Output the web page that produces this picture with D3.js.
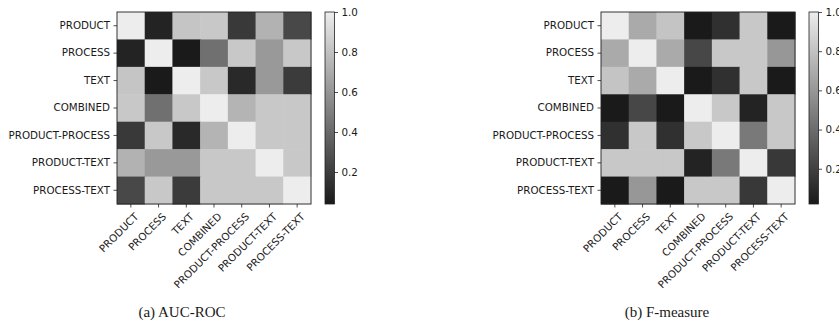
<!DOCTYPE html>
<html>
<head>
<meta charset="utf-8">
<script src="https://cdn.jsdelivr.net/npm/d3@7"></script>
<style>
  html, body { margin: 0; padding: 0; background: #fff; }
  svg { display: block; }
</style>
</head>
<body>
<svg id="chart" width="839" height="324"></svg>
<script>
// Feature groups compared in both matrices
const featureSets = ["PRODUCT", "PROCESS", "TEXT", "COMBINED", "PRODUCT-PROCESS", "PRODUCT-TEXT", "PROCESS-TEXT"];

// Pairwise similarity of AUC-ROC scores
const aucRocValues = [
  [1.00, 0.08, 0.82, 0.83, 0.18, 0.73, 0.25],
  [0.08, 1.00, 0.04, 0.43, 0.83, 0.62, 0.83],
  [0.82, 0.04, 1.00, 0.83, 0.11, 0.62, 0.19],
  [0.83, 0.43, 0.83, 1.00, 0.74, 0.83, 0.83],
  [0.18, 0.83, 0.11, 0.74, 1.00, 0.83, 0.83],
  [0.73, 0.62, 0.62, 0.83, 0.83, 1.00, 0.83],
  [0.25, 0.83, 0.19, 0.83, 0.83, 0.83, 1.00]
];

// Pairwise similarity of F-measure scores
const fMeasureValues = [
  [1.00, 0.69, 0.81, 0.02, 0.12, 0.83, 0.02],
  [0.69, 1.00, 0.69, 0.23, 0.83, 0.83, 0.60],
  [0.81, 0.69, 1.00, 0.02, 0.12, 0.83, 0.02],
  [0.02, 0.23, 0.02, 1.00, 0.83, 0.06, 0.83],
  [0.12, 0.83, 0.12, 0.83, 1.00, 0.46, 0.83],
  [0.83, 0.83, 0.83, 0.06, 0.46, 1.00, 0.16],
  [0.02, 0.60, 0.02, 0.83, 0.83, 0.16, 1.00]
];

const colorbarTicks = [0.2, 0.4, 0.6, 0.8, 1.0];
const captions = ["(a) AUC-ROC", "(b) F-measure"];

const svg = d3.select("#chart");
const labelFont = "'DejaVu Sans', sans-serif";
const labelSize = "10.3px";
const textColor = "#1a1a1a";

function drawPanel(cfg) {
  const { values, left, top, width, height, caption, captionX, id } = cfg;
  const g = svg.append("g");

  const x = d3.scaleBand().domain(featureSets).range([left, left + width]);
  const y = d3.scaleBand().domain(featureSets).range([top, top + height]);

  const flat = values.flat();
  const vmin = d3.min(flat), vmax = d3.max(flat);
  const color = d3.scaleLinear().domain([vmin, vmax]).range(["#1a1a1a", "#ededed"]);

  const cells = [];
  values.forEach((row, i) => row.forEach((v, j) => cells.push({ r: featureSets[i], c: featureSets[j], v })));

  g.selectAll("rect.cell").data(cells).join("rect")
    .attr("class", "cell")
    .attr("x", d => x(d.c))
    .attr("y", d => y(d.r))
    .attr("width", x.bandwidth() + 0.5)
    .attr("height", y.bandwidth() + 0.5)
    .attr("fill", d => color(d.v));

  // frame
  g.append("rect")
    .attr("x", left).attr("y", top).attr("width", width).attr("height", height)
    .attr("fill", "none").attr("stroke", "#222").attr("stroke-width", 0.9);

  // y axis
  const yAxis = g.append("g").attr("transform", `translate(${left},0)`)
    .call(d3.axisLeft(y).tickSize(3.5).tickPadding(3.5));
  yAxis.select(".domain").remove();
  yAxis.selectAll("line").attr("stroke", "#222").attr("stroke-width", 0.8);
  yAxis.selectAll("text").attr("font-family", labelFont).attr("font-size", labelSize).attr("fill", textColor);

  // x axis with rotated labels
  const xAxis = g.append("g").attr("transform", `translate(0,${top + height})`)
    .call(d3.axisBottom(x).tickSize(3.5).tickPadding(0));
  xAxis.select(".domain").remove();
  xAxis.selectAll("line").attr("stroke", "#222").attr("stroke-width", 0.8);
  xAxis.selectAll("text")
    .attr("font-family", labelFont).attr("font-size", labelSize).attr("fill", textColor)
    .attr("text-anchor", "end")
    .attr("y", 0).attr("dy", "0.72em")
    .attr("transform", "translate(3,8) rotate(-45)");

  // colorbar
  const cbLeft = left + width + 14, cbWidth = 9.5;
  const cbScale = d3.scaleLinear().domain([vmin, vmax]).range([top + height, top]);
  const grad = svg.append("defs").append("linearGradient")
    .attr("id", id).attr("x1", 0).attr("y1", 1).attr("x2", 0).attr("y2", 0);
  grad.append("stop").attr("offset", 0).attr("stop-color", color(vmin));
  grad.append("stop").attr("offset", 1).attr("stop-color", color(vmax));
  g.append("rect")
    .attr("x", cbLeft).attr("y", top).attr("width", cbWidth).attr("height", height)
    .attr("fill", `url(#${id})`).attr("stroke", "#222").attr("stroke-width", 0.8);
  const cbAxis = g.append("g").attr("transform", `translate(${cbLeft + cbWidth},0)`)
    .call(d3.axisRight(cbScale).tickValues(colorbarTicks).tickFormat(d3.format(".1f")).tickSize(3.5).tickPadding(3.5));
  cbAxis.select(".domain").remove();
  cbAxis.selectAll("line").attr("stroke", "#222").attr("stroke-width", 0.8);
  cbAxis.selectAll("text").attr("font-family", labelFont).attr("font-size", labelSize).attr("fill", textColor);

  // caption
  svg.append("text")
    .attr("x", captionX).attr("y", 317)
    .attr("text-anchor", "middle")
    .attr("font-family", "'Liberation Serif', 'DejaVu Serif', serif")
    .attr("font-size", "15px")
    .attr("fill", textColor)
    .text(caption);
}

drawPanel({ values: aucRocValues, left: 117, top: 12, width: 194, height: 192, caption: captions[0], captionX: 182, id: "cb-auc" });
drawPanel({ values: fMeasureValues, left: 601, top: 12, width: 194, height: 192, caption: captions[1], captionX: 667, id: "cb-f" });
</script>
</body>
</html>
